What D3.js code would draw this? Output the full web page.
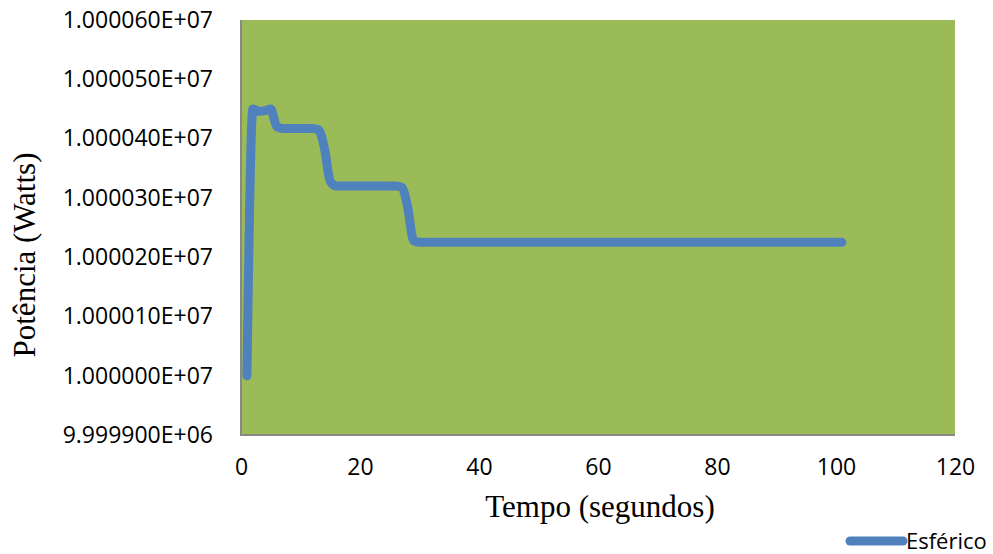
<!DOCTYPE html>
<html>
<head>
<meta charset="utf-8">
<script src="https://cdn.jsdelivr.net/npm/d3@7"></script>
<style>
  body { margin: 0; background: #fff; }
  svg { display: block; }
</style>
</head>
<body>
<div id="chart"><svg></svg></div>
<script>
// time in seconds
var tempo = [
  1, 2, 3, 4, 5, 6, 7, 8, 9, 10, 11, 12, 13, 14, 15, 16, 17, 18, 19, 20,
  21, 22, 23, 24, 25, 26, 27, 28, 29, 30, 31, 32, 33, 34, 35, 36, 37, 38, 39, 40,
  41, 42, 43, 44, 45, 46, 47, 48, 49, 50, 51, 52, 53, 54, 55, 56, 57, 58, 59, 60,
  61, 62, 63, 64, 65, 66, 67, 68, 69, 70, 71, 72, 73, 74, 75, 76, 77, 78, 79, 80,
  81, 82, 83, 84, 85, 86, 87, 88, 89, 90, 91, 92, 93, 94, 95, 96, 97, 98, 99, 100, 101
];

// potencia (Watts) - series "Esférico"
var esferico = [
  10000000, 10000450, 10000446, 10000447, 10000450, 10000420, 10000417, 10000417, 10000417, 10000417,
  10000417, 10000417, 10000415, 10000385, 10000328, 10000320, 10000320, 10000320, 10000320, 10000320,
  10000320, 10000320, 10000320, 10000320, 10000320, 10000320, 10000318, 10000285, 10000228, 10000225,
  10000225, 10000225, 10000225, 10000225, 10000225, 10000225, 10000225, 10000225, 10000225, 10000225,
  10000225, 10000225, 10000225, 10000225, 10000225, 10000225, 10000225, 10000225, 10000225, 10000225,
  10000225, 10000225, 10000225, 10000225, 10000225, 10000225, 10000225, 10000225, 10000225, 10000225,
  10000225, 10000225, 10000225, 10000225, 10000225, 10000225, 10000225, 10000225, 10000225, 10000225,
  10000225, 10000225, 10000225, 10000225, 10000225, 10000225, 10000225, 10000225, 10000225, 10000225,
  10000225, 10000225, 10000225, 10000225, 10000225, 10000225, 10000225, 10000225, 10000225, 10000225,
  10000225, 10000225, 10000225, 10000225, 10000225, 10000225, 10000225, 10000225, 10000225, 10000225,
  10000225
];

var xTicks = [0, 20, 40, 60, 80, 100, 120];
var yTicks = [9999900, 10000000, 10000100, 10000200, 10000300, 10000400, 10000500, 10000600];
var yTickLabels = ["9.999900E+06", "1.000000E+07", "1.000010E+07", "1.000020E+07",
                   "1.000030E+07", "1.000040E+07", "1.000050E+07", "1.000060E+07"];

var chartWidth = 993, chartHeight = 554;
var margin = { top: 20, right: 38, bottom: 119, left: 241 },
    width = chartWidth - margin.left - margin.right,
    height = chartHeight - margin.top - margin.bottom;

var svg = d3.select("#chart svg").attr("width", chartWidth).attr("height", chartHeight);

var x = d3.scaleLinear().domain([0, 120]).range([0, width]),
    y = d3.scaleLinear().domain([9999900, 10000600]).range([height, 0]);

var g = svg.append("g").attr("transform", "translate(" + margin.left + "," + margin.top + ")");

// plot area
g.append("rect")
    .attr("width", width)
    .attr("height", height)
    .attr("fill", "#9bbb59");

// gray axis lines (left + bottom)
g.append("path")
    .attr("d", "M0,0V" + height + "H" + width)
    .attr("fill", "none")
    .attr("stroke", "#888")
    .attr("stroke-width", 2);

var xAxis = g.append("g")
    .attr("transform", "translate(0," + height + ")")
    .call(d3.axisBottom(x).tickValues(xTicks).tickSize(0).tickPadding(24));

var yAxis = g.append("g")
    .call(d3.axisLeft(y).tickValues(yTicks).tickSize(0).tickPadding(28)
        .tickFormat(function (d, i) { return yTickLabels[i]; }));

[xAxis, yAxis].forEach(function (a) {
    a.select(".domain").remove();
    a.selectAll("text")
        .style("font-family", "'Open Sans', sans-serif")
        .style("font-size", "23px")
        .attr("fill", "#000");
});

var line = d3.line()
    .curve(d3.curveMonotoneX)
    .x(function (d, i) { return x(tempo[i]); })
    .y(function (d) { return y(d); });

g.append("path")
    .datum(esferico)
    .attr("d", line)
    .attr("fill", "none")
    .attr("stroke", "#4f81bd")
    .attr("stroke-width", 9)
    .attr("stroke-linecap", "round")
    .attr("stroke-linejoin", "round");

// axis titles
svg.append("text")
    .attr("transform", "translate(35,255) rotate(-90)")
    .attr("text-anchor", "middle")
    .style("font-family", "'Liberation Serif', serif")
    .style("font-size", "31px")
    .text("Potência (Watts)");

svg.append("text")
    .attr("x", 600)
    .attr("y", 517)
    .attr("text-anchor", "middle")
    .style("font-family", "'Liberation Serif', serif")
    .style("font-size", "31px")
    .text("Tempo (segundos)");

// legend
var legend = svg.append("g").attr("transform", "translate(850,541)");
legend.append("line")
    .attr("x1", 0).attr("x2", 53)
    .attr("stroke", "#4f81bd")
    .attr("stroke-width", 9)
    .attr("stroke-linecap", "round");
legend.append("text")
    .attr("x", 56)
    .attr("dy", "0.35em")
    .style("font-family", "'Open Sans', sans-serif")
    .style("font-size", "22px")
    .text("Esférico");
</script>
</body>
</html>
